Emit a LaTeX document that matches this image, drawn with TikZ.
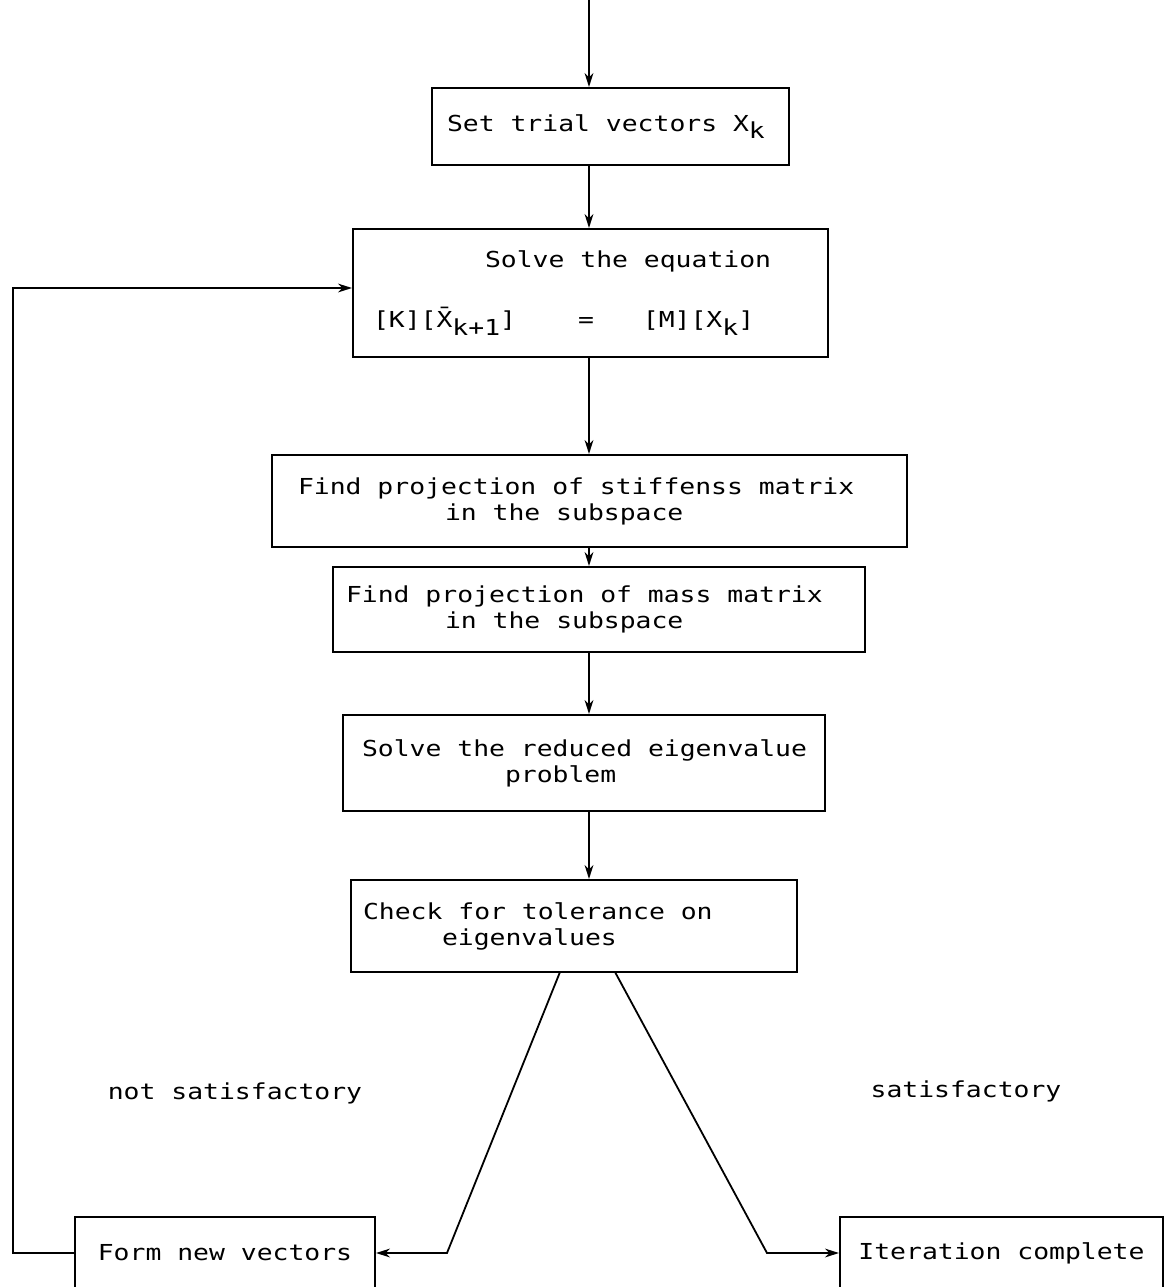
\documentclass[tikz,border=0pt]{standalone}
\usepackage{fontspec}
\setmainfont[FakeStretch=1.2]{DejaVu Sans Mono}
\usetikzlibrary{arrows.meta, calc}
\newcommand{\lowsub}[1]{\raisebox{-0.6ex}{#1}}
\newcommand{\fcline}[2]{\makebox[#1][l]{#2}}

\begin{document}
\begin{tikzpicture}[x=0.5pt, y=-0.5pt,
    fcBox/.style={draw=black, line width=1pt, rectangle, align=left, font=\fontsize{11}{13}\selectfont, inner ysep=2pt},
    fcEnd/.style={draw=black, line width=1pt, rectangle, align=center, font=\fontsize{11}{13}\selectfont},
    fcFlow/.style={draw=black, line width=0.9pt, -{Stealth[length=7pt, width=4.4pt]}},
    fcLabel/.style={font=\fontsize{11}{13}\selectfont},
]
\useasboundingbox (0,0) rectangle (1167,1287);
\node[fcBox, inner xsep=7.5pt, minimum height=38.5pt] (trial) at (610.5,126.5) {\fcline{163.5pt}{Set trial vectors X\lowsub{k}}};
\node[fcBox, inner xsep=10pt, minimum height=64pt] (solve) at (590.5,293) {\fcline{217.5pt}{\hspace*{56pt}Solve the equation}\\[17pt][K][\={X}\lowsub{k+1}]\hspace{31pt}=\hspace{24.5pt}[M][X\lowsub{k}]};
\node[fcBox, inner xsep=13pt, minimum height=46pt] (stiff) at (589.5,501) {\fcline{291.5pt}{Find projection of stiffenss matrix}\\\hspace*{73.5pt}in the subspace};
\node[fcBox, inner xsep=6.5pt, minimum height=42.5pt] (mass) at (599,609.5) {\fcline{253pt}{Find projection of mass matrix}\\\hspace*{49.5pt}in the subspace};
\node[fcBox, inner xsep=9.5pt, minimum height=48pt] (reduce) at (584,763) {\fcline{222pt}{Solve the reduced eigenvalue}\\\hspace*{71.5pt}problem};
\node[fcBox, inner xsep=6pt, minimum height=46pt] (check) at (574,926) {\fcline{211pt}{Check for tolerance on}\\\hspace*{39.5pt}eigenvalues};
\node[fcEnd, minimum width=150pt, minimum height=36pt] (formnew) at (225,1253) {Form new vectors};
\node[fcEnd, minimum width=161.5pt, minimum height=36pt] (done) at (1001.5,1253) {Iteration complete};
\node[fcLabel] (notok) at (235,1093) {not satisfactory};
\node[fcLabel] (ok) at (966,1091) {satisfactory};
% main line
\coordinate (start) at (589,0);
\draw[fcFlow] (start) -- (start |- trial.north);
\draw[fcFlow] (start |- trial.south) -- (start |- solve.north);
\draw[fcFlow] (start |- solve.south) -- (start |- stiff.north);
\draw[fcFlow] (start |- stiff.south) -- (start |- mass.north);
\draw[fcFlow] (start |- mass.south) -- (start |- reduce.north);
\draw[fcFlow] (start |- reduce.south) -- (start |- check.north);
% decision
\coordinate (nleg) at (560,972);
\coordinate (nbend) at (447,1253);
\coordinate (sleg) at (615,972);
\coordinate (sbend) at (767,1253);
\draw[fcFlow] (nleg) -- (nbend) -- (formnew.east);
\draw[fcFlow] (sleg) -- (sbend) -- (done.west);
% loop back
\coordinate (loop) at (13,288);
\draw[fcFlow] (formnew.west) -| (loop) -- (loop -| solve.west);
\end{tikzpicture}
\end{document}
